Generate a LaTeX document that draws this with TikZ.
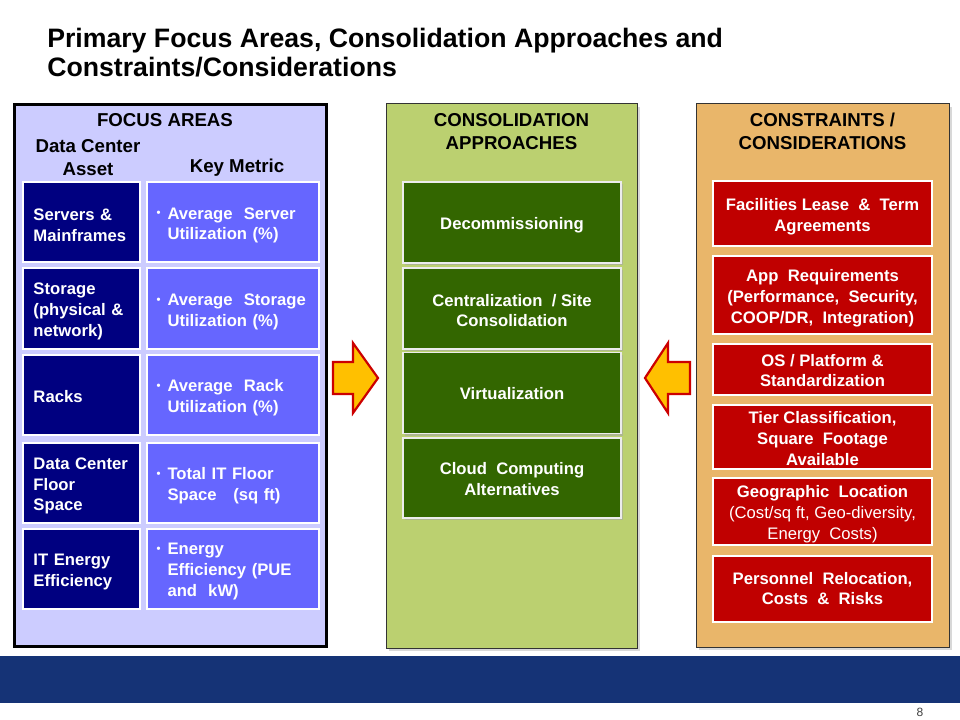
\documentclass[tikz,border=0pt]{standalone}
\usepackage{fontspec}
\usepackage{graphicx}
\setmainfont{Liberation Sans}
\usetikzlibrary{shadows}
\newlength\pxu \setlength\pxu{0.75pt}
\definecolor{lavender}{RGB}{204,204,255}
\definecolor{navybox}{RGB}{0,0,128}
\definecolor{metricblue}{RGB}{102,102,255}
\definecolor{olivepanel}{RGB}{187,208,112}
\definecolor{darkgreen}{RGB}{51,102,0}
\definecolor{tanpanel}{RGB}{233,182,106}
\definecolor{boxred}{RGB}{192,0,0}
\definecolor{barblue}{RGB}{21,51,118}
\definecolor{arrowfill}{RGB}{255,192,0}
\definecolor{arrowline}{RGB}{204,0,0}
\newcommand\mbul{\makebox[8.25pt][l]{\raisebox{0.25ex}{\fontsize{8.5}{8.5}\selectfont\textbullet}}}
\newcommand\mind{\hspace*{8.25pt}}
\newcommand\tup[1][13.5pt]{\rule{0pt}{#1}}
\begin{document}
\begin{tikzpicture}[x=0.75pt,y=-0.75pt,
  bodyfont/.style={font=\fontsize{12.5}{15.6}\selectfont\bfseries},
  hdr/.style={inner sep=0, align=center, font=\fontsize{14}{17.25}\selectfont\bfseries},
  subhdr/.style={inner sep=0, align=center, font=\fontsize{14}{17.25}\selectfont\bfseries},
  abox/.style={bodyfont, draw=white, line width=2\pxu, fill=navybox, text=white,
    text width=96\pxu, inner xsep=10.5\pxu, inner ysep=0, minimum height=80\pxu, align=left},
  mbox/.style={bodyfont, draw=white, line width=2\pxu, fill=metricblue, text=white,
    text width=152\pxu, inner xsep=10\pxu, inner ysep=0, minimum height=80\pxu, align=left},
  gbox/.style={bodyfont, draw=white!85!gray, line width=1.5\pxu, fill=darkgreen, text=white,
    minimum width=218\pxu, inner sep=0, align=center,
    drop shadow={shadow xshift=1.5pt, shadow yshift=-1.5pt, fill=black!35, opacity=0.6}},
  rbox/.style={bodyfont, draw=white, line width=2\pxu, fill=boxred, text=white,
    minimum width=219\pxu, inner sep=0, align=center},
  panelst/.style={inner sep=0, draw=black!80, line width=1\pxu,
    drop shadow={shadow xshift=2pt, shadow yshift=-2pt, fill=black!25, opacity=0.6}},
  arrowst/.style={fill=arrowfill, draw=arrowline, line width=2.2\pxu, line join=miter}
]
\useasboundingbox (0,0) rectangle (960,720);
\fill[white] (0,0) rectangle (960,720);

% title
\node[anchor=base west, inner sep=0, font=\fontsize{20}{21.75}\selectfont\bfseries] (title1) at (47,48) {Primary Focus Areas, Consolidation Approaches and};
\node[anchor=base west, inner sep=0, font=\fontsize{20}{21.75}\selectfont\bfseries] (title2) at (47,77) {Constraints/Considerations};

% panels
\node[draw=black, line width=3\pxu, fill=lavender, minimum width=312\pxu, minimum height=542\pxu, inner sep=0] (fpanel) at (170.5,375.5) {};
\node[panelst, fill=olivepanel, minimum width=251\pxu, minimum height=544\pxu] (cpanel) at (511.5,376) {};
\node[panelst, fill=tanpanel, minimum width=253\pxu, minimum height=543\pxu] (kpanel) at (822.5,375.5) {};

% headers
\node[hdr] (fhead) at (165,120.5) {FOCUS AREAS};
\node[subhdr] (dca) at (88,157.5) {Data Center\\Asset};
\node[subhdr] (kmet) at (237,168) {Key Metric};
\node[hdr] (chead) at (511.5,132) {CONSOLIDATION\\APPROACHES};
\node[hdr] (khead) at (822.5,131.5) {CONSTRAINTS /\\CONSIDERATIONS};

% focus area rows
\node[abox] (a1) at (81.5,222.5) {\tup[13pt]Servers \&\\Mainframes};
\node[abox] (a2) at (81.5,308.5) {\tup Storage\\(physical \&\\network)};
\node[abox] (a3) at (81.5,394.5) {\tup[12.5pt]Racks};
\node[abox] (a4) at (81.5,482.5) {\tup[14pt]Data Center\\Floor\\ Space};
\node[abox] (a5) at (81.5,568.5) {\tup[14pt]IT Energy\\Efficiency};

\node[mbox] (m1) at (232.5,222.5) {\tup[13pt]\mbul Average\ \ Server\\\mind Utilization (\%)};
\node[mbox] (m2) at (232.5,308.5) {\tup\mbul Average\ \ Storage\\\mind Utilization (\%)};
\node[mbox] (m3) at (232.5,394.5) {\tup\mbul Average\ \ Rack\\\mind Utilization (\%)};
\node[mbox] (m4) at (232.5,482.5) {\tup\mbul Total IT Floor\\\mind Space\ \ \ (sq ft)};
\node[mbox] (m5) at (232.5,568.5) {\tup\mbul Energy\\\mind Efficiency (PUE\\\mind and\ \ kW)};

% consolidation approaches
\node[gbox, minimum height=81\pxu] (g1) at (512,222.5) {\tup Decommissioning};
\node[gbox, minimum height=81\pxu] (g2) at (512,308.5) {\tup[12pt]Centralization\ \ / Site\\Consolidation};
\node[gbox, minimum height=81\pxu] (g3) at (512,393) {\tup[10.5pt]Virtualization};
\node[gbox, minimum height=80\pxu] (g4) at (512,478) {\tup[10.5pt]Cloud\ \ Computing\\Alternatives};

% constraints
\node[rbox, minimum height=65\pxu] (r1) at (822.5,214) {\tup Facilities\ Lease\ \ \&\ \ Term\\Agreements};
\node[rbox, minimum height=77\pxu] (r2) at (822.5,295) {\tup App\ \ Requirements\\(Performance,\ \ Security,\\COOP/DR,\ \ Integration)};
\node[rbox, minimum height=51\pxu] (r3) at (822.5,369.5) {\tup[10.5pt]OS / Platform \&\\Standardization};
\node[rbox, minimum height=64\pxu] (r4) at (822.5,437) {\tup[11pt]Tier Classification,\\Square\ \ Footage\\Available};
\node[rbox, minimum height=67\pxu] (r5) at (822.5,511) {\tup Geographic\ \ Location\\\mdseries (Cost/sq ft, Geo-diversity,\\\mdseries Energy\ \ Costs)};
\node[rbox, minimum height=66\pxu] (r6) at (822.5,588.5) {Personnel\ \ Relocation,\\Costs\ \ \&\ \ Risks};

% block arrows
\draw[arrowst] (333,362) -- (353,362) -- (353,343) -- (378,378) -- (353,413) -- (353,394) -- (333,394) -- cycle;
\draw[arrowst] (690,362) -- (668,362) -- (668,343) -- (645,378) -- (668,413) -- (668,394) -- (690,394) -- cycle;

% footer
\fill[barblue] (0,656) rectangle (960,703);
\node[inner sep=0, font=\fontsize{9}{10}\selectfont, text=black!75] (pnum) at (920,712) {8};
\end{tikzpicture}
\end{document}
